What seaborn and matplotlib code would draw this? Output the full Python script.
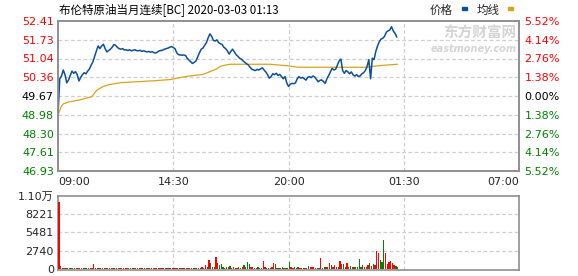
import numpy as np
import pandas as pd
import matplotlib
matplotlib.use("Agg")
import matplotlib.pyplot as plt
import seaborn as sns

# ---------------- data ----------------
title_text = "布伦特原油当月连续[BC] 2020-03-03 01:13"
legend_labels = ["价格", "均线"]
x_tick_labels = ["09:00", "14:30", "20:00", "01:30", "07:00"]
session_minutes = 1320
prev_close = 49.67

price_ticks = [46.93, 47.61, 48.30, 48.98, 49.67, 50.36, 51.04, 51.73, 52.41]
price_tick_labels = ["46.93", "47.61", "48.30", "48.98", "49.67", "50.36", "51.04", "51.73", "52.41"]
pct_tick_labels = ["5.52%", "4.14%", "2.76%", "1.38%", "0.00%", "1.38%", "2.76%", "4.14%", "5.52%"]

vol_ticks = [0, 2740, 5481, 8221, 10962]
vol_tick_labels = ["0", "2740", "5481", "8221", "1.10万"]

# price every 5 minutes from 09:00
price = [
    48.98, 50.30, 50.40, 50.62, 50.45, 50.15, 50.25, 50.42, 50.58, 50.50,
    50.56, 50.45, 50.22, 50.35, 50.45, 50.52, 50.48, 50.58, 50.66, 50.80,
    50.92, 51.12, 51.32, 51.50, 51.40, 51.50, 51.56, 51.40, 51.28, 51.33,
    51.38, 51.45, 51.55, 51.52, 51.45, 51.40, 51.38, 51.40, 51.35, 51.36,
    51.33, 51.36, 51.32, 51.34, 51.36, 51.33, 51.32, 51.34, 51.30, 51.32,
    51.30, 51.28, 51.30, 51.27, 51.29, 51.25, 51.24, 51.28, 51.32, 51.33,
    51.35, 51.38, 51.40, 51.42, 51.45, 51.48, 51.44, 51.40, 51.25, 51.18,
    51.17, 51.16, 51.17, 51.15, 51.05, 50.98, 50.92, 50.86, 50.90, 50.95,
    51.10, 51.25, 51.38, 51.42, 51.52, 51.62, 51.80, 51.94, 51.85, 51.70,
    51.68, 51.72, 51.62, 51.58, 51.55, 51.45, 51.40, 51.32, 51.20, 51.30,
    51.38, 51.28, 51.18, 51.12, 51.05, 51.02, 50.95, 50.90, 50.85, 50.80,
    50.72, 50.65, 50.62, 50.60, 50.64, 50.62, 50.66, 50.70, 50.62, 50.55,
    50.45, 50.32, 50.38, 50.48, 50.45, 50.50, 50.42, 50.46, 50.38, 50.30,
    50.38, 50.15, 50.02, 50.10, 50.13, 50.12, 50.15, 50.30, 50.38, 50.32,
    50.35, 50.30, 50.25, 50.35, 50.38, 50.34, 50.40, 50.36, 50.28, 50.19,
    50.24, 50.26, 50.20, 50.13, 50.30, 50.42, 50.55, 50.68, 50.62, 50.65,
    50.80, 50.95, 51.02, 50.60, 50.50, 50.60, 50.55, 50.48, 50.55, 50.44,
    50.40, 50.45, 50.38, 50.40, 50.48, 50.52, 50.60, 50.75, 51.00, 50.30,
    51.05, 51.00, 51.30, 51.50, 51.65, 51.75, 51.78, 51.85, 52.00, 52.05,
    52.08, 52.20, 52.05, 51.96, 51.82,
]

# average price line (minute, value)
avg_minutes = [0, 5, 10, 15, 30, 60, 77, 96, 100, 105, 111, 120, 130, 145, 163, 182, 240,
               278, 321, 333, 369, 416, 435, 454, 464, 480, 493, 607, 660, 688, 884, 900,
               920, 941, 972]
avg_price = [48.98, 49.15, 49.30, 49.38, 49.45, 49.52, 49.58, 49.64, 49.70, 49.78, 49.88,
             49.95, 50.02, 50.08, 50.12, 50.16, 50.20, 50.23, 50.27, 50.30, 50.39, 50.46,
             50.56, 50.66, 50.75, 50.80, 50.83, 50.83, 50.77, 50.72, 50.72, 50.75, 50.78,
             50.80, 50.83]

# volume every 5 minutes, with direction (r = up, g = down)
volume = [
    10100, 450, 150, 100, 120, 100, 130, 110, 100, 120,
    150, 100, 110, 120, 100, 130, 100, 120, 110, 100,
    680, 120, 100, 130, 110, 100, 120, 140, 100, 110,
    120, 100, 130, 110, 100, 120, 100, 110, 130, 100,
    110, 120, 100, 130, 100, 110, 120, 100, 110, 100,
    120, 100, 110, 130, 100, 120, 110, 100, 120, 110,
    100, 130, 110, 120, 100, 110, 140, 100, 120, 110,
    130, 100, 120, 110, 100, 140, 120, 110, 130, 150,
    120, 150, 300, 150, 600, 200, 1300, 800, 250, 200,
    1700, 800, 600, 700, 300, 150, 200, 180, 400, 150,
    300, 150, 120, 200, 150, 180, 600, 250, 1000, 700,
    200, 300, 150, 120, 180, 130, 150, 1150, 200, 150,
    130, 160, 200, 800, 700, 150, 130, 120, 180, 150,
    160, 140, 1000, 300, 150, 200, 130, 300, 150, 120,
    140, 160, 150, 400, 300, 200, 300, 150, 130, 160,
    1600, 150, 200, 200, 180, 800, 500, 250, 500, 300,
    250, 1150, 700, 700, 300, 800, 250, 400, 200, 250,
    300, 200, 1450, 250, 550, 300, 200, 550, 800, 400,
    700, 500, 2600, 2300, 1300, 1050, 4250, 2300, 700, 1050,
    1200, 800, 550, 450, 300,
]
vol_dir = ("rrgrgrrggr" "grrgrgrgrr" "rrgrrgrgrr" "rgrrgrrgrr" "grrgrrgrgr"
           "rgrrgrrgrr" "grgrrgrrgr" "rgrgrrgrgr" "grrgrrrggr" "rrgggrgrgr"
           "rgrrgrgrgg" "rrgrgrgrrg" "grrrgrgrgg" "rggrrgrgrr" "grggrrrgrg"
           "rgrgrrgrrr" "grrgrrrgrg" "rgggrgrrgr" "grrrgggrrr" "rrrgg")

# ---------------- style ----------------
sns.set_style("white")
plt.rcParams["font.family"] = ["DejaVu Sans", "Noto Sans CJK SC"]

BLUE = "#0b4f9e"
GOLD = "#dba21c"
RED = "#ff0000"
GREEN = "#008000"
SPINE = "#8f8f8f"
GRID = "#cfcfcf"

W, H = 578, 276
fig = plt.figure(figsize=(W / 100, H / 100), dpi=100)
fig.patch.set_facecolor("white")
ax = fig.add_axes([58 / W, 1 - 171 / H, 461 / W, 150 / H])
axv = fig.add_axes([58 / W, 1 - 270 / H, 461 / W, 74 / H])

step = 5
price_df = pd.DataFrame({"t": np.arange(len(price)) * step, "p": price})
avg_df = pd.DataFrame({"t": avg_minutes, "p": avg_price})
vol_df = pd.DataFrame({"t": np.arange(len(volume)) * step + step / 2,
                       "v": volume, "d": list(vol_dir[:len(volume)])})

# ---------------- main panel ----------------
sns.lineplot(data=avg_df, x="t", y="p", ax=ax, color=GOLD, linewidth=0.9,
             estimator=None, zorder=3)
sns.lineplot(data=price_df, x="t", y="p", ax=ax, color=BLUE, linewidth=1.1,
             estimator=None, zorder=4)

ax.set_xlim(0, session_minutes)
ax.set_ylim(price_ticks[0], price_ticks[-1])
xt = np.linspace(0, session_minutes, len(x_tick_labels))
ax.set_xticks(xt)
ax.set_xticklabels(x_tick_labels, fontsize=8, family="DejaVu Sans")
for lab, ha in zip(ax.get_xticklabels(), ["left", "center", "center", "center", "right"]):
    lab.set_ha(ha)
ax.set_yticks(price_ticks)
ax.set_yticklabels(price_tick_labels, fontsize=8)
mid = len(price_ticks) // 2
for i, lab in enumerate(ax.get_yticklabels()):
    lab.set_color(GREEN if i < mid else (RED if i > mid else "black"))
ax.tick_params(axis="both", length=0, pad=3)
ax.tick_params(axis="x", pad=4)
ax.set_xlabel("")
ax.set_ylabel("")

for t in xt[1:-1]:
    ax.axvline(t, color=GRID, lw=0.9, ls=(0, (3, 2)), zorder=1)
for v in price_ticks[1:-1]:
    ax.axhline(v, color=GRID, lw=0.9, ls=(0, (3, 2)), zorder=1)

ax2 = ax.twinx()
ax2.set_ylim(ax.get_ylim())
ax2.set_yticks(price_ticks)
ax2.set_yticklabels(pct_tick_labels, fontsize=8)
for i, lab in enumerate(ax2.get_yticklabels()):
    lab.set_color(GREEN if i < mid else (RED if i > mid else "black"))
ax2.tick_params(axis="y", length=0, pad=4)

for a in (ax, ax2, axv):
    for s in a.spines.values():
        s.set_color(SPINE)
        s.set_linewidth(1.2)

# watermark
ax.text(0.995, 0.92, "东方财富网", transform=ax.transAxes, ha="right", va="center",
        fontsize=10.5, fontweight="bold", color="#d4d4d4", family="Noto Sans CJK SC", zorder=0)
ax.text(0.995, 0.81, "eastmoney.com", transform=ax.transAxes, ha="right", va="center",
        fontsize=7, fontweight="bold", style="italic", color="#d4d4d4", zorder=0)

# ---------------- volume panel ----------------
sns.barplot(data=vol_df, x="t", y="v", hue="d", palette={"r": RED, "g": GREEN},
            native_scale=True, dodge=False, errorbar=None, saturation=1,
            width=0.75, linewidth=0, legend=False, ax=axv, zorder=3)
axv.set_xlim(0, session_minutes)
axv.set_ylim(-200, vol_ticks[-1])
axv.set_xticks(xt)
axv.set_xticklabels([])
axv.set_yticks(vol_ticks)
axv.set_yticklabels(vol_tick_labels, fontsize=8)
axv.tick_params(axis="both", length=0, pad=3)
axv.set_xlabel("")
axv.set_ylabel("")
for t in xt[1:-1]:
    axv.axvline(t, color=GRID, lw=0.9, ls=(0, (3, 2)), zorder=1)
for v in vol_ticks[1:-1]:
    axv.axhline(v, color=GRID, lw=0.9, ls=(0, (3, 2)), zorder=1)

# ---------------- title & legend ----------------
fig.text(59 / W, 1 - 10 / H, title_text, ha="left", va="center", fontsize=8.3,
         family=["Noto Sans CJK SC", "DejaVu Sans"], color="black")
fig.text(430 / W, 1 - 10 / H, legend_labels[0], ha="left", va="center", fontsize=8.3,
         family=["Noto Sans CJK SC", "DejaVu Sans"])
fig.text(477 / W, 1 - 10 / H, legend_labels[1], ha="left", va="center", fontsize=8.3,
         family=["Noto Sans CJK SC", "DejaVu Sans"])
fig.patches.append(plt.Rectangle((462 / W, 1 - 10 / H), 5 / W, 3 / H, color=BLUE,
                                 transform=fig.transFigure, figure=fig))
fig.patches.append(plt.Rectangle((508 / W, 1 - 10 / H), 5 / W, 3 / H, color=GOLD,
                                 transform=fig.transFigure, figure=fig))

fig.savefig("out.png", dpi=100)
